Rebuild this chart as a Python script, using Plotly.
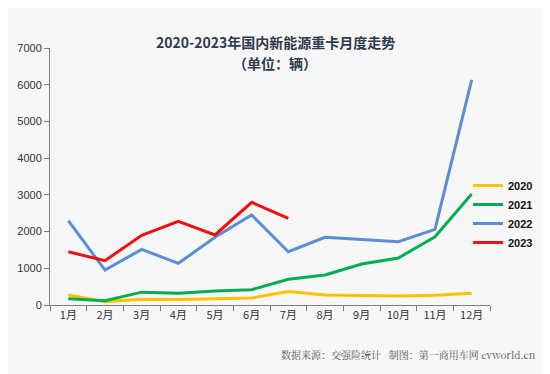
import plotly.graph_objects as go

months = ["1月", "2月", "3月", "4月", "5月", "6月", "7月", "8月", "9月", "10月", "11月", "12月"]
y2020 = [270, 90, 160, 150, 170, 190, 370, 270, 262, 245, 263, 318]
y2021 = [170, 115, 350, 318, 380, 418, 700, 817, 1115, 1280, 1860, 3025]
y2022 = [2297, 950, 1515, 1135, 1844, 2452, 1450, 1844, 1785, 1726, 2062, 6130]
y2023 = [1450, 1207, 1899, 2280, 1907, 2798, 2362]

series = [
    ("2020", y2020, "#FFC000"),
    ("2021", y2021, "#00B050"),
    ("2022", y2022, "#5B8ED6"),
    ("2023", y2023, "#F01010"),
]

fig = go.Figure()
for name, vals, color in series:
    fig.add_trace(go.Scatter(
        x=months[:len(vals)], y=vals, name="<b>" + name + "</b>", mode="lines",
        line=dict(color=color, width=3),
    ))

OFF = 8  # page body margin
W, H = 550 - OFF, 374 - OFF
ml, mt = 50 - OFF, 48 - OFF
mr = W - (490 - OFF)
mb = H - (305 - OFF)
pw, ph = W - ml - mr, H - mt - mb

def px(x):
    return (x - OFF - ml) / pw

def py(y):
    return (H - (y - OFF) - mb) / ph

fig.update_layout(
    width=W, height=H,
    margin=dict(l=ml, r=mr, t=mt, b=mb, autoexpand=False),
    paper_bgcolor="#F7F7F7", plot_bgcolor="#F7F7F7",
    font=dict(family="Noto Sans CJK SC, Arial", size=11, color="#333333"),
    showlegend=True,
    legend=dict(
        x=px(468), y=py(171),
        xanchor="left", yanchor="top",
        bgcolor="rgba(0,0,0,0)",
        font=dict(family="Arial", size=11, color="#111111"),
        itemwidth=30, tracegroupgap=0,
    ),
    xaxis=dict(
        type="category", categoryorder="array", categoryarray=months,
        range=[-0.5, 11.5],
        showline=True, linecolor="#7F7F7F", linewidth=1,
        ticks="outside", tickson="boundaries", ticklen=5, tickcolor="#7F7F7F",
        showgrid=False, zeroline=False,
        tickfont=dict(size=11, color="#333333"),
    ),
    yaxis=dict(
        range=[0, 7000], dtick=1000,
        showline=True, linecolor="#7F7F7F", linewidth=1,
        ticks="outside", ticklen=5, tickcolor="#7F7F7F",
        showgrid=False, zeroline=False,
        tickfont=dict(family="Arial", size=11, color="#333333"),
    ),
    annotations=[
        dict(text="<b>2020-2023年国内新能源重卡月度走势</b>", x=px(275), y=py(30),
             xref="paper", yref="paper", showarrow=False,
             font=dict(size=14, color="#2E3B4E", family="Noto Sans CJK SC")),
        dict(text="<b>（单位：辆）</b>", x=px(275), y=py(51),
             xref="paper", yref="paper", showarrow=False,
             font=dict(size=14, color="#2E3B4E", family="Noto Sans CJK SC")),
        dict(text="数据来源：交强险统计   制图：第一商用车网 cvworld.cn", x=px(538), y=py(364),
             xref="paper", yref="paper", showarrow=False, xanchor="right",
             font=dict(size=10, color="#555555", family="Noto Serif CJK SC, Noto Sans CJK SC")),
    ],
)

fig.write_html("out.html")
